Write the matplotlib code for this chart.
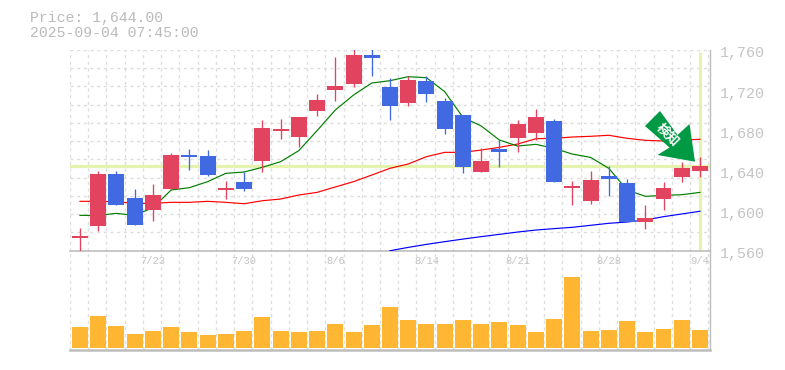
import numpy as np
import matplotlib
matplotlib.use("Agg")
import matplotlib.pyplot as plt
from matplotlib.patches import Polygon
from matplotlib.transforms import ScaledTranslation, Affine2D

opens = [1572.6,1584.9,1636.4,1612.5,1600.5,1621.5,1655.3,1654.4,1620.5,1628.4,1649.4,1679.3,1673.3,1699.2,1720.1,1726.1,1755,1723.1,1707.2,1729.1,1709.2,1695.2,1638.4,1661.3,1672.3,1677.3,1689.2,1622.5,1609.5,1634.4,1627.4,1588.6,1611.5,1633.4,1639.4]
closes = [1574.6,1636.4,1605.5,1585.6,1615.5,1655.3,1653.4,1635.4,1622.5,1621.5,1682.3,1681.3,1693.2,1710.2,1724.1,1755,1752,1704.2,1730.1,1716.1,1681.3,1643.4,1649.4,1658.3,1686.2,1693.2,1628.4,1624.5,1630.4,1631.4,1588.6,1592.6,1622.5,1642.4,1644.4]
highs = [1582.6,1639.7,1639.4,1621.5,1626.4,1657.3,1661.3,1660.3,1629.4,1638.4,1690.2,1691.2,1693.2,1716.1,1753,1762,1761,1732.1,1734.1,1734.1,1712.2,1695.2,1662.3,1670.3,1690.2,1701.2,1691.2,1629.4,1639.4,1644.4,1631.4,1605.5,1628.4,1648.4,1653.4]
lows = [1558,1579.6,1605.5,1585.6,1589.6,1620.5,1640.4,1634.4,1611.5,1619.5,1638.4,1671.3,1663.3,1694.2,1709.2,1723.1,1734,1690.2,1704.5,1708.2,1676.3,1637.4,1638.4,1643.4,1658.3,1670.3,1628.4,1605.5,1606.5,1614.5,1588.6,1581.6,1600.5,1628.4,1633.4]
ma_short = [1595.2,1595.2,1597.2,1595.2,1602.9,1620.5,1622.8,1628.8,1637.1,1638.4,1643.1,1648.7,1659.7,1679.6,1700.2,1715.1,1727.1,1729.4,1733.4,1732.4,1718.5,1692.9,1684.3,1670.3,1664.3,1666,1662,1656.3,1653,1642.1,1620.5,1614.2,1615.1,1615.8,1618.1]
ma_mid = [1609.2,1609.2,1608.8,1607.2,1607.2,1608.2,1608.2,1609.2,1608.2,1606.8,1609.8,1611.5,1615.5,1618.1,1623.5,1628.8,1635.4,1642.1,1646.4,1653.7,1658,1658,1660.3,1663,1666.3,1671.6,1672,1673.3,1674,1675,1672,1670,1669.3,1670.3,1671]
ma_long = [1560,1563.3,1566.3,1569,1571.6,1574,1576.3,1578.6,1580.6,1582,1583.3,1585.3,1587.3,1588.6,1590.6,1593.9,1596.6,1599.3]
volumes = [21,32,22,14,17,21,16,13,14,17,31,17,16,17,24,16,23,41,28,24,24,28,24,26,23,16,29,71,17,18,27,16,19,28,18]
price_ticks = [1560,1600,1640,1680,1720,1760]
date_ticks = [4,9,14,19,24,29,34]
date_labels = ["7/23","7/30","8/6","8/14","8/21","8/28","9/4"]
last_price = 1644
last_index = 34
title_lines = ["Price: 1,644.00","2025-09-04 07:45:00"]
badge_text = "検知"

W,H = 785,370
RED,BLUE = "#E2435F","#4169E1"
GRID,FRAME,TXT = "#DDDDDD","#BDBDBD","#BBBBBB"
HL = "#E4F4AE"
MONO = "Liberation Mono"

fig = plt.figure(figsize=(W/100,H/100),dpi=100,facecolor="white")
def axpx(l,t,r,b):
    return fig.add_axes([l/W,1-b/H,(r-l)/W,(b-t)/H])
L,R = 70,710
xlim = (-0.548,34.55)
vol = axpx(L,250.7,R,350.3)
ax = axpx(L,50,R,250.7)
ax.set_zorder(3); ax.patch.set_alpha(0); vol.patch.set_alpha(0)
gridx = np.arange(36)-0.548
dash = (0,(2.2,2.6))

# volume panel
vol.set_xlim(xlim); vol.set_ylim(-2.3,97.3)
for g in gridx:
    vol.axvline(g,color=GRID,lw=1.0,ls=dash,zorder=1)
vol.bar(np.arange(35),volumes,width=0.877,color="#FFB733",linewidth=0,zorder=2)
for s in ["top","left"]:
    vol.spines[s].set_visible(False)
vol.spines["right"].set_color(FRAME); vol.spines["right"].set_linewidth(1.0)
vol.spines["bottom"].set_color(FRAME); vol.spines["bottom"].set_linewidth(1.8)
vol.set_xticks([]); vol.set_yticks([])

# price panel
ax.set_xlim(xlim); ax.set_ylim(1560,1760)
for g in gridx:
    ax.axvline(g,color=GRID,lw=1.0,ls=dash,zorder=1)
for g in np.linspace(1560,1760,12)[1:]:
    ax.axhline(g,color=GRID,lw=1.0,ls=dash,zorder=1)
ax.axhline(last_price,color=HL,lw=2.3,zorder=2,xmin=0,xmax=(34.1-xlim[0])/(xlim[1]-xlim[0])+0.012)
ax.vlines(last_index,1561,1758,color=HL,lw=2.3,zorder=2)
lw_ma = 0.85
ax.plot(np.arange(35),ma_mid,color="#FF0000",lw=lw_ma,zorder=3)
ax.plot(np.arange(35),ma_short,color="#007F00",lw=lw_ma,zorder=3)
ax.plot(np.arange(17,35),ma_long,color="#0000FF",lw=lw_ma,zorder=3)
colors = [RED if c>=o else BLUE for o,c in zip(opens,closes)]
x = np.arange(35)
ax.vlines(x,lows,highs,colors=colors,lw=0.95,zorder=4)
ax.bar(x,np.abs(np.subtract(closes,opens)),bottom=np.minimum(opens,closes),width=0.877,color=colors,linewidth=0,zorder=5)
for s in ["top","left"]:
    ax.spines[s].set_visible(False)
ax.spines["right"].set_color(FRAME); ax.spines["right"].set_linewidth(1.0)
ax.spines["bottom"].set_color(FRAME); ax.spines["bottom"].set_linewidth(1.2)
ax.set_xticks(date_ticks); ax.set_xticklabels(date_labels,fontsize=7.6,family=MONO,color="#C4C4C4")
ax.set_yticks(price_ticks)
ax.set_yticklabels([f"{p:,}" for p in price_ticks],fontsize=10.8,family=MONO,color="#C4C4C4")
ax.tick_params(axis="x",length=0,pad=3.5)
ax.tick_params(axis="y",length=0,pad=7,left=False,right=False,labelleft=False,labelright=True)
shift = ScaledTranslation(0,-2/100,fig.dpi_scale_trans)
for t in ax.yaxis.get_major_ticks():
    t.label2.set_transform(t.label2.get_transform()+shift)

# arrow badge, in figure pixels
to_fig = Affine2D().scale(1/W,-1/H).translate(0,1)+fig.transFigure
outline = [(660,111),(645,126),(669.5,147.5),(657.5,155),(695,161.7),(689.5,124),(677.5,135)]
fig.add_artist(Polygon(outline,closed=True,facecolor="#009944",edgecolor="none",transform=to_fig,zorder=10))
fig.text(667.5/W,1-134.5/H,badge_text,color="white",fontsize=9.5,fontweight="bold",rotation=-45,rotation_mode="anchor",
         ha="center",va="center",family="Noto Sans CJK JP",zorder=11)

for (line,y) in zip(title_lines,[18,33]):
    fig.text(29.5/W,1-y/H,line,fontsize=10.7,family=MONO,color=TXT,ha="left",va="center")
fig.savefig("out.png",dpi=100)
